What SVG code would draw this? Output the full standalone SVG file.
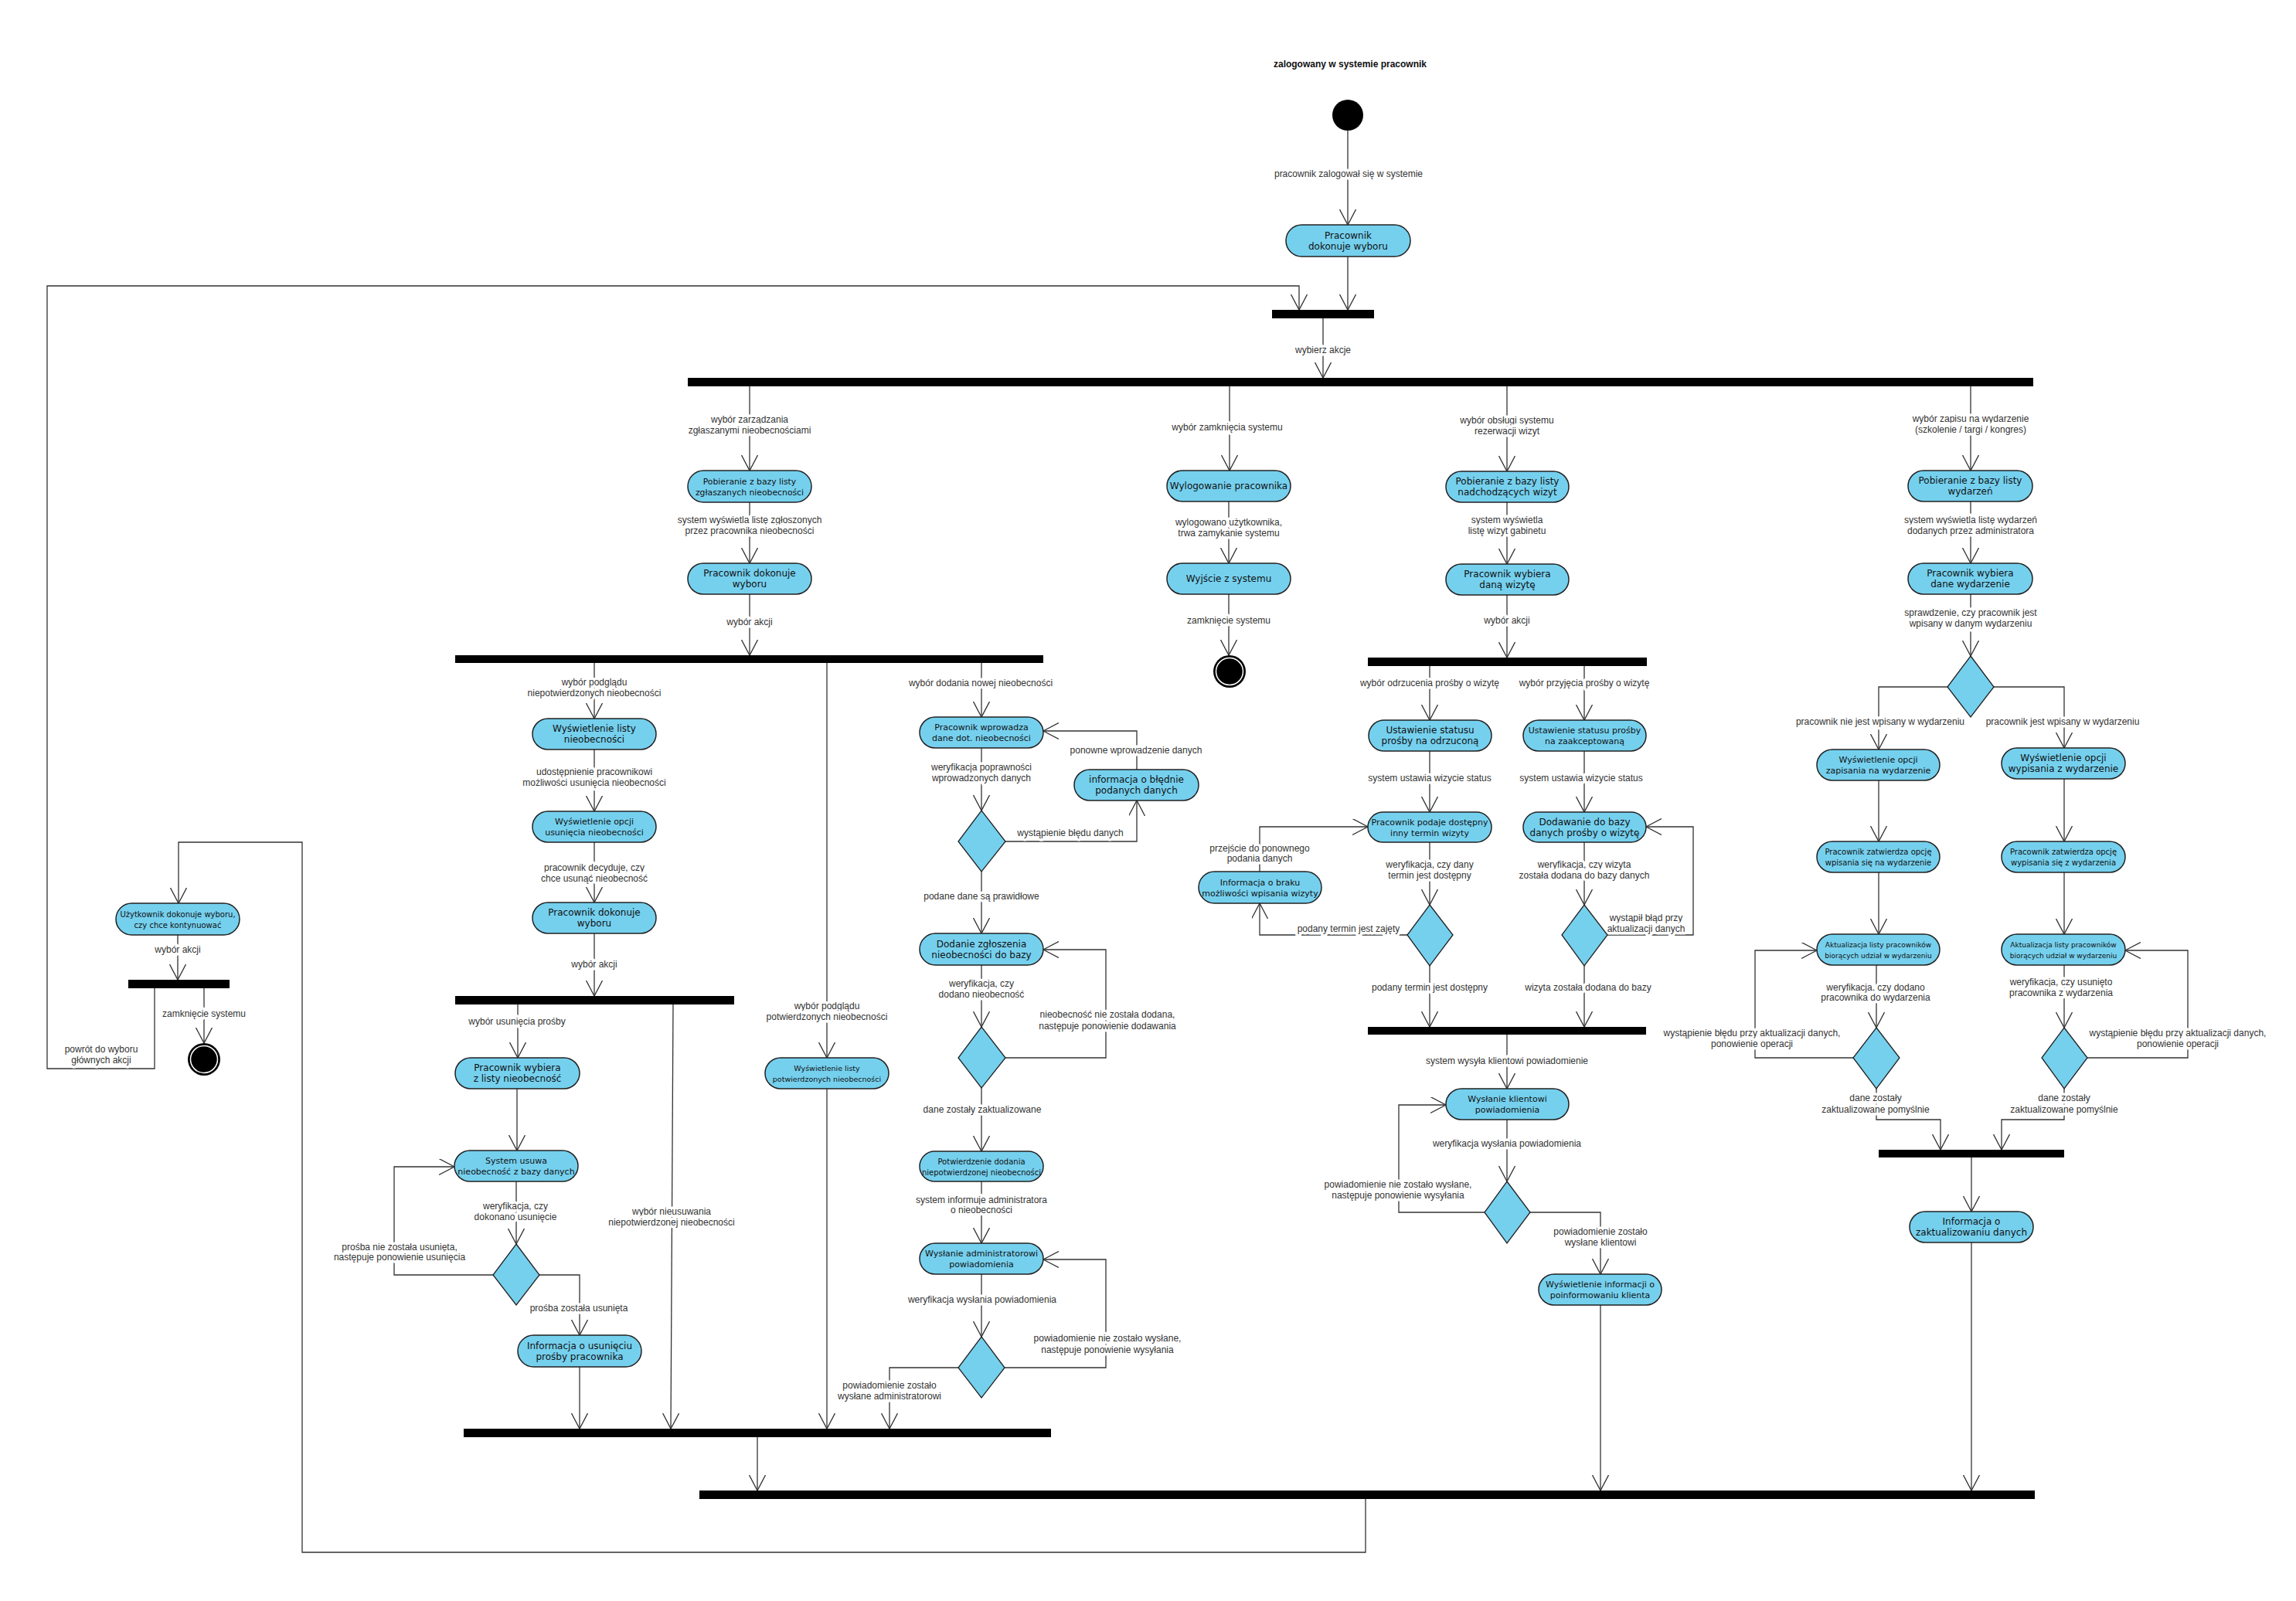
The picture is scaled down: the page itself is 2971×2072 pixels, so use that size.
<svg xmlns="http://www.w3.org/2000/svg" width="2971" height="2072" viewBox="0 0 2971 2072">
<style>
.bg{fill:#fff}
.n rect{fill:#75d0ee;stroke:#222;stroke-width:1.5}
.d polygon{fill:#75d0ee;stroke:#222;stroke-width:1.3}
.bar rect{fill:#000}
.c{fill:none;stroke:#333;stroke-width:1.3;marker-end:url(#arr)}
.nt{font-family:"DejaVu Sans","Liberation Sans",sans-serif;fill:#111;text-anchor:middle}
.lb{font-family:"Liberation Sans",Arial,sans-serif;font-size:12px;fill:#333;text-anchor:middle;paint-order:stroke;stroke:#fff;stroke-width:7px;stroke-linejoin:round}
.title{font-family:"Liberation Sans",Arial,sans-serif;font-size:12px;font-weight:bold;fill:#111;text-anchor:middle}
</style>
<defs>
<marker id="arr" markerUnits="userSpaceOnUse" markerWidth="22" markerHeight="22" viewBox="0 0 22 22" refX="20" refY="10.5" orient="auto">
<path d="M0,0 L20,10.5 L0,21" fill="none" stroke="#333" stroke-width="1.3"/>
</marker>
</defs>
<rect class="bg" x="0" y="0" width="2971" height="2072"/>
<text class="title" x="1747" y="87">zalogowany w systemie pracownik</text>

<g id="connectors">
<path class="c" d="M1744,169 V291"/>
<path class="c" d="M1744,332 V401"/>
<path class="c" d="M1712,412 V489"/>
<path class="c" d="M970,500 V609"/>
<path class="c" d="M970,650 V729"/>
<path class="c" d="M970,769 V848"/>
<path class="c" d="M769,858 V930"/>
<path class="c" d="M769,970 V1050"/>
<path class="c" d="M769,1090 V1168"/>
<path class="c" d="M769,1208 V1289"/>
<path class="c" d="M670,1300 V1369"/>
<path class="c" d="M669,1409 V1489"/>
<path class="c" d="M668,1529 V1610"/>
<path class="c" d="M638,1650 H510 V1510 H588"/>
<path class="c" d="M698,1650 H750 V1728"/>
<path class="c" d="M750,1769 V1849"/>
<path class="c" d="M871,1300 L868,1849"/>
<path class="c" d="M1070,858 V1369"/>
<path class="c" d="M1070,1409 V1849"/>
<path class="c" d="M1270,858 V928"/>
<path class="c" d="M1270,968 V1049"/>
<path class="c" d="M1301,1089 H1471 V1036"/>
<path class="c" d="M1471,996 V946 H1350"/>
<path class="c" d="M1270,1128 V1208"/>
<path class="c" d="M1270,1249 V1329"/>
<path class="c" d="M1301,1369 H1431 V1229 H1350"/>
<path class="c" d="M1270,1408 V1490"/>
<path class="c" d="M1270,1529 V1609"/>
<path class="c" d="M1270,1649 V1730"/>
<path class="c" d="M1300,1770 H1431 V1630 H1350"/>
<path class="c" d="M1240,1770 H1151 V1849"/>
<path class="c" d="M980,1860 V1929"/>
<path class="c" d="M1591,500 V609"/>
<path class="c" d="M1590,649 V729"/>
<path class="c" d="M1590,769 V848"/>
<path class="c" d="M1950,500 V610"/>
<path class="c" d="M1950,650 V730"/>
<path class="c" d="M1950,770 V851"/>
<path class="c" d="M1850,862 V932"/>
<path class="c" d="M2050,862 V932"/>
<path class="c" d="M1850,972 V1051"/>
<path class="c" d="M2050,972 V1051"/>
<path class="c" d="M1850,1090 V1171"/>
<path class="c" d="M1821,1210 H1630 V1169"/>
<path class="c" d="M1630,1128 V1070 H1770"/>
<path class="c" d="M1850,1250 V1329"/>
<path class="c" d="M2050,1090 V1171"/>
<path class="c" d="M2080,1210 H2191 V1070 H2130"/>
<path class="c" d="M2050,1250 V1329"/>
<path class="c" d="M1950,1339 V1409"/>
<path class="c" d="M1950,1449 V1529"/>
<path class="c" d="M1921,1569 H1810 V1430 H1871"/>
<path class="c" d="M1980,1569 H2071 V1649"/>
<path class="c" d="M2071,1689 V1929"/>
<path class="c" d="M2550,500 V609"/>
<path class="c" d="M2550,649 V729"/>
<path class="c" d="M2550,769 V849"/>
<path class="c" d="M2520,889 H2431 V970"/>
<path class="c" d="M2580,889 H2671 V968"/>
<path class="c" d="M2431,1010 V1089"/>
<path class="c" d="M2671,1008 V1089"/>
<path class="c" d="M2431,1129 V1209"/>
<path class="c" d="M2671,1129 V1209"/>
<path class="c" d="M2428,1249 V1330"/>
<path class="c" d="M2398,1369 H2271 V1230 H2351"/>
<path class="c" d="M2428,1409 V1449 H2511 V1488"/>
<path class="c" d="M2671,1249 V1330"/>
<path class="c" d="M2701,1369 H2831 V1230 H2750"/>
<path class="c" d="M2671,1409 V1449 H2590 V1488"/>
<path class="c" d="M2551,1498 V1568"/>
<path class="c" d="M2551,1608 V1929"/>
<path class="c" d="M1767,1940 V2009 H391 V1090 H231 V1169"/>
<path class="c" d="M230,1210 V1268"/>
<path class="c" d="M264,1279 V1350"/>
<path class="c" d="M200,1279 V1383 H61 V370 H1681 V401"/>

<text class="lb" x="1745" y="229">pracownik zalogował się w systemie</text>
<text class="lb" x="1712" y="457">wybierz akcje</text>
<text class="lb"><tspan x="970" y="547">wybór zarządzania</tspan><tspan x="970" y="561">zgłaszanymi nieobecnościami</tspan></text>
<text class="lb"><tspan x="970" y="677">system wyświetla listę zgłoszonych</tspan><tspan x="970" y="691">przez pracownika nieobecności</tspan></text>
<text class="lb" x="970" y="809">wybór akcji</text>
<text class="lb"><tspan x="769" y="887">wybór podglądu</tspan><tspan x="769" y="901">niepotwierdzonych nieobecności</tspan></text>
<text class="lb"><tspan x="769" y="1003">udostępnienie pracownikowi</tspan><tspan x="769" y="1017">możliwości usunięcia nieobecności</tspan></text>
<text class="lb"><tspan x="769" y="1127">pracownik decyduje, czy</tspan><tspan x="769" y="1141">chce usunąć nieobecność</tspan></text>
<text class="lb" x="769" y="1252">wybór akcji</text>
<text class="lb" x="669" y="1326">wybór usunięcia prośby</text>
<text class="lb"><tspan x="667" y="1565">weryfikacja, czy</tspan><tspan x="667" y="1579">dokonano usunięcie</tspan></text>
<text class="lb"><tspan x="517" y="1618">prośba nie została usunięta,</tspan><tspan x="517" y="1631">następuje ponowienie usunięcia</tspan></text>
<text class="lb" x="749" y="1697">prośba została usunięta</text>
<text class="lb"><tspan x="869" y="1572">wybór nieusuwania</tspan><tspan x="869" y="1586">niepotwierdzonej nieobecności</tspan></text>
<text class="lb"><tspan x="1070" y="1306">wybór podglądu</tspan><tspan x="1070" y="1320">potwierdzonych nieobecności</tspan></text>
<text class="lb" x="1269" y="888">wybór dodania nowej nieobecności</text>
<text class="lb"><tspan x="1270" y="997">weryfikacja poprawności</tspan><tspan x="1270" y="1011">wprowadzonych danych</tspan></text>
<text class="lb" x="1385" y="1082">wystąpienie błędu danych</text>
<text class="lb" x="1470" y="975">ponowne wprowadzenie danych</text>
<text class="lb" x="1270" y="1164">podane dane są prawidłowe</text>
<text class="lb"><tspan x="1270" y="1277">weryfikacja, czy</tspan><tspan x="1270" y="1291">dodano nieobecność</tspan></text>
<text class="lb"><tspan x="1433" y="1317">nieobecność nie została dodana,</tspan><tspan x="1433" y="1332">następuje ponowienie dodawania</tspan></text>
<text class="lb" x="1271" y="1440">dane zostały zaktualizowane</text>
<text class="lb"><tspan x="1270" y="1557">system informuje administratora</tspan><tspan x="1270" y="1570">o nieobecności</tspan></text>
<text class="lb" x="1271" y="1686">weryfikacja wysłania powiadomienia</text>
<text class="lb"><tspan x="1433" y="1736">powiadomienie nie zostało wysłane,</tspan><tspan x="1433" y="1751">następuje ponowienie wysyłania</tspan></text>
<text class="lb"><tspan x="1151" y="1797">powiadomienie zostało</tspan><tspan x="1151" y="1811">wysłane administratorowi</tspan></text>
<text class="lb" x="1588" y="557">wybór zamknięcia systemu</text>
<text class="lb"><tspan x="1590" y="680">wylogowano użytkownika,</tspan><tspan x="1590" y="694">trwa zamykanie systemu</tspan></text>
<text class="lb" x="1590" y="807">zamknięcie systemu</text>
<text class="lb"><tspan x="1950" y="548">wybór obsługi systemu</tspan><tspan x="1950" y="562">rezerwacji wizyt</tspan></text>
<text class="lb"><tspan x="1950" y="677">system wyświetla</tspan><tspan x="1950" y="691">listę wizyt gabinetu</tspan></text>
<text class="lb" x="1950" y="807">wybór akcji</text>
<text class="lb" x="1850" y="888">wybór odrzucenia prośby o wizytę</text>
<text class="lb" x="2050" y="888">wybór przyjęcia prośby o wizytę</text>
<text class="lb" x="1850" y="1011">system ustawia wizycie status</text>
<text class="lb" x="2046" y="1011">system ustawia wizycie status</text>
<text class="lb"><tspan x="1630" y="1102">przejście do ponownego</tspan><tspan x="1630" y="1115">podania danych</tspan></text>
<text class="lb"><tspan x="1850" y="1123">weryfikacja, czy dany</tspan><tspan x="1850" y="1137">termin jest dostępny</tspan></text>
<text class="lb" x="1745" y="1206">podany termin jest zajęty</text>
<text class="lb"><tspan x="2050" y="1123">weryfikacja, czy wizyta</tspan><tspan x="2050" y="1137">została dodana do bazy danych</tspan></text>
<text class="lb"><tspan x="2130" y="1192">wystąpił błąd przy</tspan><tspan x="2130" y="1206">aktualizacji danych</tspan></text>
<text class="lb" x="1850" y="1282">podany termin jest dostępny</text>
<text class="lb" x="2055" y="1282">wizyta została dodana do bazy</text>
<text class="lb" x="1950" y="1377">system wysyła klientowi powiadomienie</text>
<text class="lb" x="1950" y="1484">weryfikacja wysłania powiadomienia</text>
<text class="lb"><tspan x="1809" y="1537">powiadomienie nie zostało wysłane,</tspan><tspan x="1809" y="1551">następuje ponowienie wysyłania</tspan></text>
<text class="lb"><tspan x="2071" y="1598">powiadomienie zostało</tspan><tspan x="2071" y="1612">wysłane klientowi</tspan></text>
<text class="lb"><tspan x="2550" y="546">wybór zapisu na wydarzenie</tspan><tspan x="2550" y="560">(szkolenie / targi / kongres)</tspan></text>
<text class="lb"><tspan x="2550" y="677">system wyświetla listę wydarzeń</tspan><tspan x="2550" y="691">dodanych przez administratora</tspan></text>
<text class="lb"><tspan x="2550" y="797">sprawdzenie, czy pracownik jest</tspan><tspan x="2550" y="811">wpisany w danym wydarzeniu</tspan></text>
<text class="lb" x="2433" y="938">pracownik nie jest wpisany w wydarzeniu</text>
<text class="lb" x="2669" y="938">pracownik jest wpisany w wydarzeniu</text>
<text class="lb"><tspan x="2427" y="1282">weryfikacja, czy dodano</tspan><tspan x="2427" y="1295">pracownika do wydarzenia</tspan></text>
<text class="lb"><tspan x="2267" y="1341">wystąpienie błędu przy aktualizacji danych,</tspan><tspan x="2267" y="1355">ponowienie operacji</tspan></text>
<text class="lb"><tspan x="2667" y="1275">weryfikacja, czy usunięto</tspan><tspan x="2667" y="1289">pracownika z wydarzenia</tspan></text>
<text class="lb"><tspan x="2818" y="1341">wystąpienie błędu przy aktualizacji danych,</tspan><tspan x="2818" y="1355">ponowienie operacji</tspan></text>
<text class="lb"><tspan x="2427" y="1425">dane zostały</tspan><tspan x="2427" y="1440">zaktualizowane pomyślnie</tspan></text>
<text class="lb"><tspan x="2671" y="1425">dane zostały</tspan><tspan x="2671" y="1440">zaktualizowane pomyślnie</tspan></text>
<text class="lb" x="230" y="1233">wybór akcji</text>
<text class="lb" x="264" y="1316">zamknięcie systemu</text>
<text class="lb"><tspan x="131" y="1362">powrót do wyboru</tspan><tspan x="131" y="1376">głównych akcji</tspan></text>
</g>

<g id="start"><circle cx="1744" cy="149" r="20" fill="#000"/></g>
<g id="end_system"><circle cx="1591" cy="869" r="21" fill="#000"/><circle cx="1591" cy="869" r="17.5" fill="#000" stroke="#fff" stroke-width="1.5"/></g>
<g id="end_left"><circle cx="264" cy="1371" r="21" fill="#000"/><circle cx="264" cy="1371" r="17.5" fill="#000" stroke="#fff" stroke-width="1.5"/></g>

<g id="bar_main_choice" class="bar"><rect x="1646" y="401" width="132" height="11"/></g>
<g id="bar_main_fork" class="bar"><rect x="890" y="489" width="1741" height="11"/></g>
<g id="bar_absence_fork" class="bar"><rect x="589" y="848" width="761" height="10"/></g>
<g id="bar_delete_fork" class="bar"><rect x="589" y="1289" width="361" height="11"/></g>
<g id="bar_absence_join" class="bar"><rect x="600" y="1849" width="760" height="11"/></g>
<g id="bar_final_join" class="bar"><rect x="905" y="1929" width="1728" height="11"/></g>
<g id="bar_continue" class="bar"><rect x="166" y="1268" width="131" height="11"/></g>
<g id="bar_visit_fork" class="bar"><rect x="1770" y="851" width="361" height="11"/></g>
<g id="bar_visit_join" class="bar"><rect x="1770" y="1329" width="360" height="10"/></g>
<g id="bar_event_join" class="bar"><rect x="2431" y="1488" width="240" height="10"/></g>

<g id="d1" class="d"><polygon points="1270,1049 1301,1089 1270,1128 1240,1089"/></g>
<g id="d2" class="d"><polygon points="1270,1329 1301,1369 1270,1408 1240,1369"/></g>
<g id="d3" class="d"><polygon points="1270,1730 1300,1770 1270,1809 1240,1770"/></g>
<g id="d4" class="d"><polygon points="668,1610 698,1650 668,1689 638,1650"/></g>
<g id="d5" class="d"><polygon points="1850,1171 1880,1210 1850,1250 1821,1210"/></g>
<g id="d6" class="d"><polygon points="2050,1171 2080,1210 2050,1250 2021,1210"/></g>
<g id="d7" class="d"><polygon points="1950,1529 1980,1569 1950,1609 1921,1569"/></g>
<g id="d8" class="d"><polygon points="2550,849 2580,889 2550,928 2520,889"/></g>
<g id="d9" class="d"><polygon points="2428,1330 2458,1369 2428,1409 2398,1369"/></g>
<g id="d10" class="d"><polygon points="2671,1330 2701,1369 2671,1409 2642,1369"/></g>

<g id="n_choice_main" class="n"><rect x="1664" y="291" width="161" height="41" rx="20.5"/><text class="nt" font-size="12"><tspan x="1744.5" y="308.5">Pracownik</tspan><tspan x="1744.5" y="322.5">dokonuje wyboru</tspan></text></g>
<g id="n_pob_nieob" class="n"><rect x="890" y="609" width="160" height="41" rx="20.5"/><text class="nt" font-size="10.8"><tspan x="970" y="626.5">Pobieranie z bazy listy</tspan><tspan x="970" y="640.5">zgłaszanych nieobecności</tspan></text></g>
<g id="n_wybor1" class="n"><rect x="890" y="729" width="160" height="40" rx="20"/><text class="nt" font-size="12"><tspan x="970" y="746">Pracownik dokonuje</tspan><tspan x="970" y="760">wyboru</tspan></text></g>
<g id="n_wysw_listy" class="n"><rect x="689" y="930" width="160" height="40" rx="20"/><text class="nt" font-size="12"><tspan x="769" y="947">Wyświetlenie listy</tspan><tspan x="769" y="961">nieobecności</tspan></text></g>
<g id="n_wysw_opcji" class="n"><rect x="689" y="1050" width="160" height="40" rx="20"/><text class="nt" font-size="11"><tspan x="769" y="1067">Wyświetlenie opcji</tspan><tspan x="769" y="1081">usunięcia nieobecności</tspan></text></g>
<g id="n_wybor2" class="n"><rect x="689" y="1168" width="160" height="40" rx="20"/><text class="nt" font-size="12"><tspan x="769" y="1185">Pracownik dokonuje</tspan><tspan x="769" y="1199">wyboru</tspan></text></g>
<g id="n_wybiera_z_listy" class="n"><rect x="589" y="1369" width="161" height="40" rx="20"/><text class="nt" font-size="12"><tspan x="669.5" y="1386">Pracownik wybiera</tspan><tspan x="669.5" y="1400">z listy nieobecność</tspan></text></g>
<g id="n_system_usuwa" class="n"><rect x="588" y="1489" width="160" height="40" rx="20"/><text class="nt" font-size="11"><tspan x="668" y="1506">System usuwa</tspan><tspan x="668" y="1520">nieobecność z bazy danych</tspan></text></g>
<g id="n_info_usun" class="n"><rect x="670" y="1728" width="160" height="41" rx="20.5"/><text class="nt" font-size="12"><tspan x="750" y="1745.5">Informacja o usunięciu</tspan><tspan x="750" y="1759.5">prośby pracownika</tspan></text></g>
<g id="n_potwierdzone" class="n"><rect x="990" y="1369" width="160" height="40" rx="20"/><text class="nt" font-size="9.5"><tspan x="1070" y="1386">Wyświetlenie listy</tspan><tspan x="1070" y="1400">potwierdzonych nieobecności</tspan></text></g>
<g id="n_wprowadza" class="n"><rect x="1190" y="928" width="160" height="40" rx="20"/><text class="nt" font-size="11"><tspan x="1270" y="945">Pracownik wprowadza</tspan><tspan x="1270" y="959">dane dot. nieobecności</tspan></text></g>
<g id="n_bledne" class="n"><rect x="1390" y="996" width="161" height="40" rx="20"/><text class="nt" font-size="12"><tspan x="1470.5" y="1013">informacja o błędnie</tspan><tspan x="1470.5" y="1027">podanych danych</tspan></text></g>
<g id="n_dodanie" class="n"><rect x="1190" y="1208" width="160" height="41" rx="20.5"/><text class="nt" font-size="12"><tspan x="1270" y="1225.5">Dodanie zgłoszenia</tspan><tspan x="1270" y="1239.5">nieobecności do bazy</tspan></text></g>
<g id="n_potwierdzenie" class="n"><rect x="1190" y="1490" width="160" height="39" rx="19.5"/><text class="nt" font-size="10"><tspan x="1270" y="1506.5">Potwierdzenie dodania</tspan><tspan x="1270" y="1520.5">niepotwierdzonej nieobecności</tspan></text></g>
<g id="n_wyslanie_admin" class="n"><rect x="1190" y="1609" width="160" height="40" rx="20"/><text class="nt" font-size="11"><tspan x="1270" y="1626">Wysłanie administratorowi</tspan><tspan x="1270" y="1640">powiadomienia</tspan></text></g>
<g id="n_wylogowanie" class="n"><rect x="1510" y="609" width="160" height="40" rx="20"/><text class="nt" font-size="12" x="1590" y="633">Wylogowanie pracownika</text></g>
<g id="n_wyjscie" class="n"><rect x="1510" y="729" width="160" height="40" rx="20"/><text class="nt" font-size="12" x="1590" y="753">Wyjście z systemu</text></g>
<g id="n_pob_wizyt" class="n"><rect x="1871" y="610" width="159" height="40" rx="20"/><text class="nt" font-size="12"><tspan x="1950.5" y="627">Pobieranie z bazy listy</tspan><tspan x="1950.5" y="641">nadchodzących wizyt</tspan></text></g>
<g id="n_wybiera_wizyte" class="n"><rect x="1871" y="730" width="159" height="40" rx="20"/><text class="nt" font-size="12"><tspan x="1950.5" y="747">Pracownik wybiera</tspan><tspan x="1950.5" y="761">daną wizytę</tspan></text></g>
<g id="n_odrzucona" class="n"><rect x="1771" y="932" width="159" height="40" rx="20"/><text class="nt" font-size="12"><tspan x="1850.5" y="949">Ustawienie statusu</tspan><tspan x="1850.5" y="963">prośby na odrzuconą</tspan></text></g>
<g id="n_zaakceptowana" class="n"><rect x="1971" y="932" width="159" height="40" rx="20"/><text class="nt" font-size="11"><tspan x="2050.5" y="949">Ustawienie statusu prośby</tspan><tspan x="2050.5" y="963">na zaakceptowaną</tspan></text></g>
<g id="n_podaje_termin" class="n"><rect x="1770" y="1051" width="160" height="39" rx="19.5"/><text class="nt" font-size="11"><tspan x="1850" y="1067.5">Pracownik podaje dostępny</tspan><tspan x="1850" y="1081.5">inny termin wizyty</tspan></text></g>
<g id="n_dodawanie_wizyty" class="n"><rect x="1971" y="1051" width="159" height="39" rx="19.5"/><text class="nt" font-size="12"><tspan x="2050.5" y="1067.5">Dodawanie do bazy</tspan><tspan x="2050.5" y="1081.5">danych prośby o wizytę</tspan></text></g>
<g id="n_brak" class="n"><rect x="1551" y="1128" width="159" height="41" rx="20.5"/><text class="nt" font-size="11"><tspan x="1630.5" y="1145.5">Informacja o braku</tspan><tspan x="1630.5" y="1159.5">możliwości wpisania wizyty</tspan></text></g>
<g id="n_wyslanie_klient" class="n"><rect x="1871" y="1409" width="159" height="40" rx="20"/><text class="nt" font-size="11"><tspan x="1950.5" y="1426">Wysłanie klientowi</tspan><tspan x="1950.5" y="1440">powiadomienia</tspan></text></g>
<g id="n_poinformowanie" class="n"><rect x="1991" y="1649" width="159" height="40" rx="20"/><text class="nt" font-size="11"><tspan x="2070.5" y="1666">Wyświetlenie informacji o</tspan><tspan x="2070.5" y="1680">poinformowaniu klienta</tspan></text></g>
<g id="n_pob_wydarzen" class="n"><rect x="2469" y="609" width="161" height="40" rx="20"/><text class="nt" font-size="12"><tspan x="2549.5" y="626">Pobieranie z bazy listy</tspan><tspan x="2549.5" y="640">wydarzeń</tspan></text></g>
<g id="n_wybiera_wydarzenie" class="n"><rect x="2469" y="729" width="161" height="40" rx="20"/><text class="nt" font-size="12"><tspan x="2549.5" y="746">Pracownik wybiera</tspan><tspan x="2549.5" y="760">dane wydarzenie</tspan></text></g>
<g id="n_opcja_zapis" class="n"><rect x="2351" y="970" width="159" height="40" rx="20"/><text class="nt" font-size="11"><tspan x="2430.5" y="987">Wyświetlenie opcji</tspan><tspan x="2430.5" y="1001">zapisania na wydarzenie</tspan></text></g>
<g id="n_opcja_wypis" class="n"><rect x="2590" y="968" width="160" height="40" rx="20"/><text class="nt" font-size="12"><tspan x="2670" y="985">Wyświetlenie opcji</tspan><tspan x="2670" y="999">wypisania z wydarzenie</tspan></text></g>
<g id="n_zatw_zapis" class="n"><rect x="2351" y="1089" width="159" height="40" rx="20"/><text class="nt" font-size="10"><tspan x="2430.5" y="1106">Pracownik zatwierdza opcję</tspan><tspan x="2430.5" y="1120">wpisania się na wydarzenie</tspan></text></g>
<g id="n_zatw_wypis" class="n"><rect x="2590" y="1089" width="160" height="40" rx="20"/><text class="nt" font-size="10"><tspan x="2670" y="1106">Pracownik zatwierdza opcję</tspan><tspan x="2670" y="1120">wypisania się z wydarzenia</tspan></text></g>
<g id="n_aktual_zapis" class="n"><rect x="2351" y="1209" width="159" height="40" rx="20"/><text class="nt" font-size="9"><tspan x="2430.5" y="1226">Aktualizacja listy pracowników</tspan><tspan x="2430.5" y="1240">biorących udział w wydarzeniu</tspan></text></g>
<g id="n_aktual_wypis" class="n"><rect x="2590" y="1209" width="160" height="40" rx="20"/><text class="nt" font-size="9"><tspan x="2670" y="1226">Aktualizacja listy pracowników</tspan><tspan x="2670" y="1240">biorących udział w wydarzeniu</tspan></text></g>
<g id="n_info_zaktual" class="n"><rect x="2471" y="1568" width="160" height="40" rx="20"/><text class="nt" font-size="12"><tspan x="2551" y="1585">Informacja o</tspan><tspan x="2551" y="1599">zaktualizowaniu danych</tspan></text></g>
<g id="n_uzytkownik" class="n"><rect x="150" y="1169" width="160" height="41" rx="20.5"/><text class="nt" font-size="10"><tspan x="230" y="1186.5">Użytkownik dokonuje wyboru,</tspan><tspan x="230" y="1200.5">czy chce kontynuować</tspan></text></g>
</svg>
